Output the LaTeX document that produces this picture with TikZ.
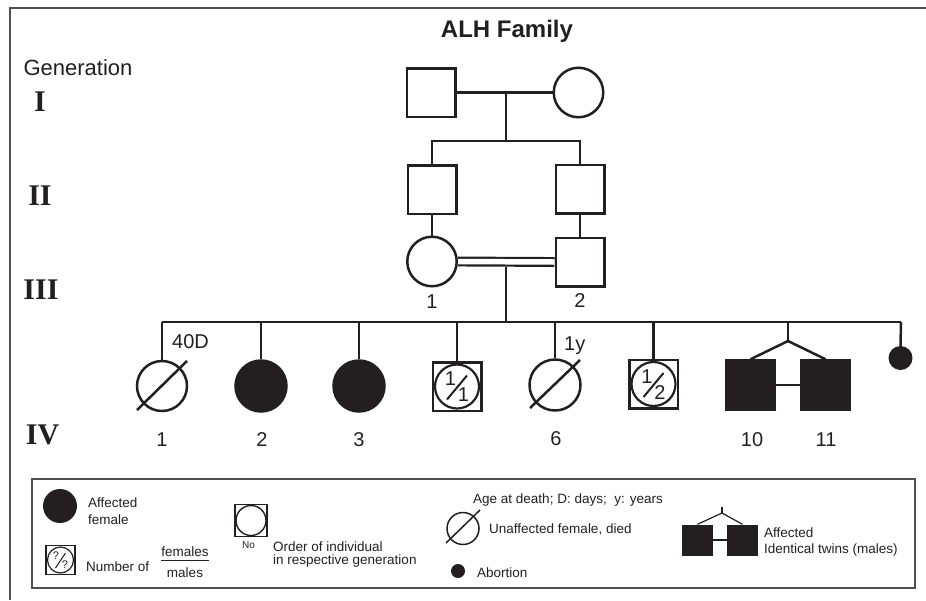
\documentclass[tikz,border=0pt]{standalone}
\usepackage{fontspec}
\setmainfont{Liberation Sans}
\newfontfamily\romanfont{Liberation Serif}
\definecolor{ink}{RGB}{35,31,32}
\definecolor{framegray}{RGB}{80,80,80}
\begin{document}
\begin{tikzpicture}[x=1pt,y=-1pt,
  ln/.style={line width=2.5pt, draw=ink},
  male/.style={draw=ink, line width=2.5pt, rectangle, minimum size=48.5pt, inner sep=0pt},
  female/.style={draw=ink, line width=2.5pt, circle, minimum size=49.5pt, inner sep=0pt},
  aff/.style={fill=ink},
  lab/.style={font=\fontsize{20}{24}\selectfont, inner sep=0pt, text=ink},
  fs/.style={font=\fontsize{20}{22}\selectfont, inner sep=0pt, text=ink},
  gen/.style={font=\romanfont\bfseries\fontsize{30}{32}\selectfont, inner sep=0pt, text=ink},
  leg/.style={font=\fontsize{13.5}{16}\selectfont, inner sep=0pt, anchor=base west, text=ink},
]
\useasboundingbox (0,0) rectangle (926,600);
% frame
\coordinate (fTL) at (10,8);
\coordinate (fTR) at (926,8);
\coordinate (fBL) at (10,600);
\draw[framegray, line width=1.8pt] (fTR) -- (fTL) -- (fBL);

% title and generation labels
\node[font=\bfseries\fontsize{24}{28}\selectfont, inner sep=0pt, text=ink] (title) at (507,31) {ALH Family};
\node[font=\fontsize{22}{26}\selectfont, inner sep=0pt, text=ink] (genlab) at (78,68) {Generation};
\node[gen] (gI) at (40,102) {I};
\node[gen] (gII) at (40,196) {II};
\node[gen] (gIII) at (41,290) {III};
\node[gen] (gIV) at (42.5,435) {IV};

% Generation I
\node[male] (I1) at (431,92.5) {};
\node[female] (I2) at (578.5,92.5) {};
\draw[ln] (I1.east) -- (I2.west);
\coordinate (mI) at (506,92.5);
\coordinate (sI) at (506,141);
\draw[ln] (mI) -- (sI);

% Generation II
\node[male] (II1) at (432,189.5) {};
\node[male] (II2) at (580,189) {};
\draw[ln] (II1.north) |- (sI) -| (II2.north);

% Generation III
\node[female] (III1) at (432,261.5) {};
\node[male] (III2) at (580,262) {};
\draw[ln] (II1.south) -- (III1.north);
\draw[ln] (II2.south) -- (III2.north);
\draw[ink, line width=2.2pt, double=white, double distance=5.5pt] (III1.east) -- (III2.west);
\node[lab] (n31) at (432,301.5) {1};
\node[lab] (n32) at (580,301) {2};
\coordinate (mIII) at (506,266.5);
\coordinate (sIII) at (506,322);
\draw[ln] (mIII) -- (sIII);

% Generation IV sibship line
\coordinate (sL) at (162,322);
\coordinate (sR) at (901,322);
\draw[ln] (sL) -- (sR);

% IV-1
\node[female, minimum size=50pt] (IV1) at (162,386) {};
\draw[ln] (sL) -- (IV1.north);
\draw[ln] ([shift={(-25,24)}]IV1.center) -- ([shift={(25,-25)}]IV1.center);
\node[lab, anchor=base west] (d1) at (172,348) {40D};
\node[lab] (n41) at (162,439.5) {1};

% IV-2, IV-3
\node[female, aff, minimum size=51pt] (IV2) at (261,386) {};
\draw[ln] (IV2.north) -- (IV2.north |- sL);
\node[lab] (n42) at (262,439.5) {2};
\node[female, aff, minimum size=51pt] (IV3) at (359,386) {};
\draw[ln] (IV3.north) -- (IV3.north |- sL);
\node[lab] (n43) at (359,439.5) {3};

% IV-4 (1/1)
\node[male] (IV4) at (457,386.5) {};
\node[female, line width=2.2pt, minimum size=44pt] (IV4c) at (IV4) {};
\draw[ln] (IV4.north) -- (IV4.north |- sL);
\node[fs] (IV4a) at ([shift={(-6.5,-8)}]IV4.center) {1};
\node[fs] (IV4b) at ([shift={(6.5,8)}]IV4.center) {1};
\draw[ln, line width=2pt] ([shift={(-10,13)}]IV4.center) -- ([shift={(10,-11)}]IV4.center);

% IV-5 (1y, died)
\node[female, minimum size=51pt] (IV5) at (555,385) {};
\draw[ln] (IV5.north) -- (IV5.north |- sL);
\draw[ln] ([shift={(-25,23)}]IV5.center) -- ([shift={(25,-25)}]IV5.center);
\node[lab, anchor=base west] (d5) at (564,350) {1y};
\node[lab] (n46) at (556,438.5) {6};

% IV-6 (1/2)
\node[male] (IV6) at (653.5,384) {};
\node[female, line width=2.2pt, minimum size=44pt] (IV6c) at (IV6) {};
\draw[ln] (IV6.north) -- (IV6.north |- sL);
\node[fs] (IV6a) at ([shift={(-6.5,-7.5)}]IV6.center) {1};
\node[fs] (IV6b) at ([shift={(6.5,9)}]IV6.center) {2};
\draw[ln, line width=2pt] ([shift={(-10,13)}]IV6.center) -- ([shift={(10,-11)}]IV6.center);

% twins
\node[male, aff, minimum size=49pt] (T1) at (750.5,385) {};
\node[male, aff, minimum size=49pt] (T2) at (825.5,385) {};
\coordinate (tw) at (788,341);
\draw[ln] (tw |- sL) -- (tw);
\draw[ln] (T1.north) -- (tw) -- (T2.north);
\draw[ln] (T1.east) -- (T2.west);
\node[lab] (n410) at (752,439.5) {10};
\node[lab] (n411) at (826,439.5) {11};

% abortion
\node[circle, fill=ink, minimum size=24pt, inner sep=0pt] (ab) at (900.5,358) {};
\draw[ln] (sR) -- (ab.north);

% ---------------- legend ----------------
\node[draw=framegray, line width=1.4pt, minimum width=883pt, minimum height=109pt, inner sep=0pt] (legbox) at (473.5,533.5) {};

\node[circle, fill=ink, minimum size=34pt, inner sep=0pt] (Laff) at (60,506) {};
\node[leg] (Laff1) at (88,507) {Affected};
\node[leg] (Laff2) at (88,524) {female};

\node[draw=ink, line width=1.3pt, minimum size=29pt, inner sep=0pt] (Lq) at (60.5,560) {};
\node[draw=ink, line width=1.2pt, circle, minimum size=26pt, inner sep=0pt] (Lqc) at (Lq) {};
\node[font=\fontsize{11}{12}\selectfont, inner sep=0pt, text=ink] (Lq1) at ([shift={(-4.5,-4)}]Lq.center) {?};
\node[font=\fontsize{11}{12}\selectfont, inner sep=0pt, text=ink] (Lq2) at ([shift={(4.5,4.5)}]Lq.center) {?};
\draw[ink, line width=1pt] ([shift={(-5,8)}]Lq.center) -- ([shift={(5,-7)}]Lq.center);
\node[leg] (Lnum) at (86,571) {Number of};
\node[leg, anchor=base] (Lfem) at (185,556) {females};
\node[leg, anchor=base] (Lmal) at (185,577) {males};
\draw[ink, line width=1pt] (Lfem.west |- 0,560.5) -- (Lfem.east |- 0,560.5);

\node[draw=ink, line width=1.3pt, minimum size=32pt, inner sep=0pt] (Lno) at (251,520.5) {};
\node[draw=ink, line width=1.4pt, circle, minimum size=30pt, inner sep=0pt] (Lnoc) at (Lno) {};
\node[font=\fontsize{10}{11}\selectfont, inner sep=0pt, anchor=base, text=ink] (LnoT) at (248.5,548) {No};
\node[leg] (Lord1) at (273,551) {Order of individual};
\node[leg] (Lord2) at (273,564) {in respective generation};

\node[leg] (Lage) at (473,503) {Age at death; D: days;\ \ y: years};
\node[draw=ink, line width=1.5pt, circle, minimum size=32pt, inner sep=0pt] (Ldied) at (463,528.5) {};
\draw[ink, line width=1.5pt] ([shift={(-17,14.5)}]Ldied.center) -- ([shift={(17,-18.5)}]Ldied.center);
\node[leg] (LdiedT) at (489,533) {Unaffected female, died};

\node[circle, fill=ink, minimum size=14pt, inner sep=0pt] (Lab) at (458,571) {};
\node[leg] (LabT) at (477,577) {Abortion};

\node[fill=ink, minimum size=31pt, inner sep=0pt] (LT1) at (697.5,540) {};
\node[fill=ink, minimum size=31pt, inner sep=0pt] (LT2) at (742.5,540) {};
\coordinate (Ltw) at (722,513);
\coordinate (Ltwtop) at (722,507);
\draw[ink, line width=1.2pt] (Ltwtop) -- (Ltw);
\draw[ink, line width=1.2pt] (LT1.north) -- (Ltw) -- (LT2.north);
\draw[ink, line width=1.2pt] (LT1.east) -- (LT2.west);
\node[leg] (LtwT1) at (764,537) {Affected};
\node[leg] (LtwT2) at (764,553) {Identical twins (males)};
\end{tikzpicture}
\end{document}
